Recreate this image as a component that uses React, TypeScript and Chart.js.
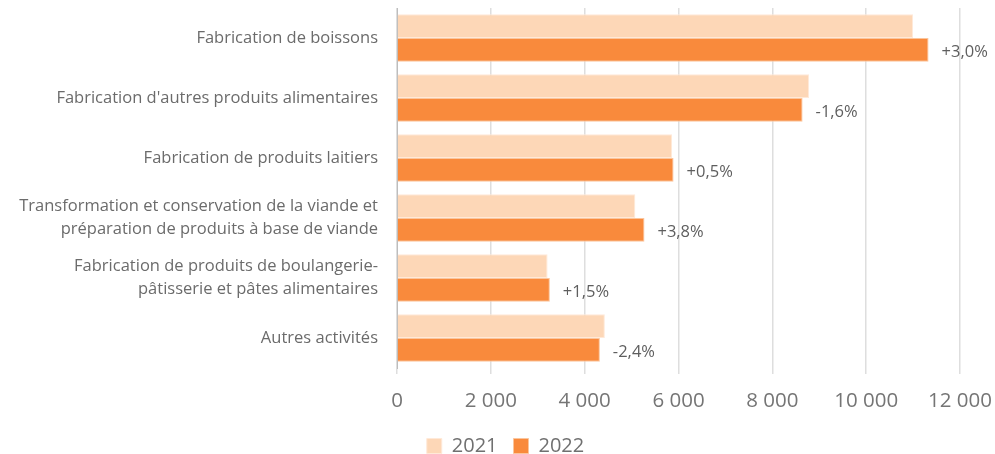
import React, { useEffect, useRef } from "react";
import { Chart, registerables } from "chart.js";

Chart.register(...registerables);

const categories: (string | string[])[] = [
  "Fabrication de boissons",
  "Fabrication d'autres produits alimentaires",
  "Fabrication de produits laitiers",
  ["Transformation et conservation de la viande et", "préparation de produits à base de viande"],
  ["Fabrication de produits de boulangerie-", "pâtisserie et pâtes alimentaires"],
  "Autres activités",
];
const values2021 = [11000, 8785, 5865, 5080, 3210, 4430];
const values2022 = [11330, 8645, 5895, 5275, 3258, 4324];
const changeLabels = ["+3,0%", "-1,6%", "+0,5%", "+3,8%", "+1,5%", "-2,4%"];
const xTicks = [0, 2000, 4000, 6000, 8000, 10000, 12000];

const FONT = "'Open Sans', sans-serif";

const labelPlugin = {
  id: "changeLabels",
  afterLayout(chart: any) {
    if (chart.legend) {
      chart.legend.top += 12;
      chart.legend.bottom += 12;
      chart.legend.left += 8;
      chart.legend.right += 8;
    }
  },
  afterDatasetsDraw(chart: any) {
    const meta = chart.getDatasetMeta(1);
    const ctx = chart.ctx;
    ctx.save();
    ctx.font = `16.5px ${FONT}`;
    ctx.fillStyle = "#5e5e5e";
    ctx.textAlign = "left";
    ctx.textBaseline = "middle";
    meta.data.forEach((bar: any, i: number) => {
      ctx.fillText(changeLabels[i], bar.x + 13, bar.y + 2);
    });
    ctx.restore();
  },
};

export default function App() {
  const ref = useRef<HTMLCanvasElement>(null);
  useEffect(() => {
    document.body.style.margin = "0";
    const chart = new Chart(ref.current!, {
      type: "bar",
      data: {
        labels: categories,
        datasets: [
          {
            label: "2021",
            data: values2021,
            backgroundColor: "#FDD7B7",
            borderColor: "#FFE9D8",
            borderWidth: 1,
            categoryPercentage: 0.79,
            barPercentage: 1,
          },
          {
            label: "2022",
            data: values2022,
            backgroundColor: "#F98A3C",
            borderColor: "#FBC59C",
            borderWidth: 1,
            categoryPercentage: 0.79,
            barPercentage: 1,
          },
        ],
      },
      options: {
        indexAxis: "y",
        animation: false,
        responsive: false,
        layout: { padding: { top: 8, right: 0, left: 0, bottom: 0 } },
        plugins: {
          legend: {
            position: "bottom",
            labels: {
              font: { family: FONT, size: 20 },
              color: "#707070",
              boxWidth: 15,
              boxHeight: 15,
              padding: 16,
            },
          },
          tooltip: { enabled: false },
        },
        scales: {
          x: {
            min: 0,
            max: 12000,
            afterBuildTicks: (scale: any) => {
              scale.ticks = xTicks.map((v) => ({ value: v }));
            },
            afterFit: (scale: any) => {
              scale.height = 40;
              scale.paddingRight = 35;
            },
            ticks: {
              font: { family: FONT, size: 20.5 },
              color: "#757575",
              padding: 15,
              maxRotation: 0,
              callback: (v: any) => String(v).replace(/\B(?=(\d{3})+(?!\d))/g, " "),
            },
            grid: { color: "#dedede", lineWidth: 1.5, tickLength: 6, drawTicks: true },
            border: { display: false },
          },
          y: {
            afterFit: (scale: any) => {
              scale.width = 397;
              scale.paddingTop = 0;
              scale.paddingBottom = 0;
            },
            ticks: {
              font: { family: FONT, size: 16.5, lineHeight: 1.38 },
              color: "#6b6b6b",
              padding: 11,
            },
            grid: { display: false },
            border: { display: true, color: "#bdbdbd", width: 1 },
          },
        },
      },
      plugins: [labelPlugin],
    } as any);
    return () => chart.destroy();
  }, []);
  return <canvas ref={ref} width={995} height={454} style={{ display: "block" }} />;
}
